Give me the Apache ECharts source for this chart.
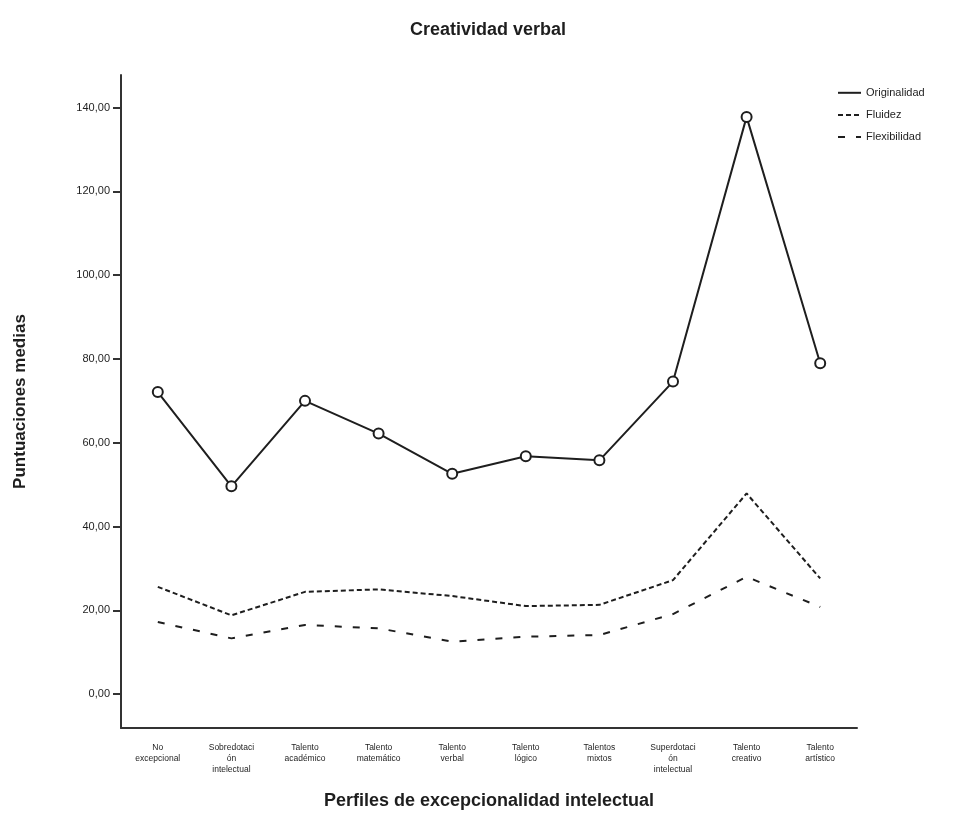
<!DOCTYPE html>
<html>
<head>
<meta charset="utf-8">
<script src="https://cdn.jsdelivr.net/npm/echarts@6/dist/echarts.min.js"></script>
<style>
  html, body { margin: 0; padding: 0; background: #fff; }
  #chart { width: 965px; height: 820px; }
</style>
</head>
<body>
<div id="chart"></div>
<script>
// categorías (perfiles)
var perfiles = [
    'No\nexcepcional', 'Sobredotaci\nón\nintelectual', 'Talento\nacadémico', 'Talento\nmatemático',
    'Talento\nverbal', 'Talento\nlógico', 'Talentos\nmixtos', 'Superdotaci\nón\nintelectual',
    'Talento\ncreativo', 'Talento\nartístico'
]
var originalidad = [72.1, 49.6, 70.0, 62.2, 52.6, 56.8, 55.8, 74.6, 137.8, 79.0]
var fluidez = [25.6, 18.8, 24.4, 25.0, 23.4, 21.0, 21.3, 27.2, 47.9, 27.6]
var flexibilidad = [17.2, 13.3, 16.5, 15.7, 12.5, 13.7, 14.1, 19.1, 28.0, 20.8]
var yTicks = [0, 20, 40, 60, 80, 100, 120, 140]

var ink = '#1e1e1e'
var font = 'Liberation Sans, Arial, sans-serif'

var myChart = echarts.init(document.getElementById('chart'))
myChart.setOption({
    backgroundColor: '#fff',
    animation: false,
    title: {
        text: 'Creatividad verbal',
        left: 483,
        textAlign: 'center',
        top: 16,
        textStyle: {fontSize: 18, fontWeight: 'bold', color: ink, fontFamily: font}
    },
    legend: {
        orient: 'vertical',
        left: 832,
        top: 82,
        itemWidth: 23,
        itemHeight: 12,
        itemGap: 11,
        itemStyle: {opacity: 0},
        textStyle: {fontSize: 11, color: ink, fontFamily: font},
        data: ['Originalidad', 'Fluidez', 'Flexibilidad']
    },
    grid: {
        left: 121,
        right: 108,
        top: 75,
        bottom: 92
    },
    xAxis: {
        type: 'category',
        data: perfiles,
        boundaryGap: true,
        name: 'Perfiles de excepcionalidad intelectual',
        nameLocation: 'middle',
        nameGap: 64,
        nameTextStyle: {fontSize: 18, fontWeight: 'bold', color: ink, fontFamily: font},
        axisLine: {onZero: false, lineStyle: {color: '#333', width: 2}},
        axisTick: {alignWithLabel: true, length: 9, lineStyle: {color: '#333', width: 2}},
        axisLabel: {
            interval: 0,
            fontSize: 8.5,
            lineHeight: 11,
            margin: 14,
            color: ink,
            fontFamily: font
        }
    },
    yAxis: {
        type: 'value',
        min: -8.1,
        max: 147.8,
        name: 'Puntuaciones medias',
        nameLocation: 'middle',
        nameGap: 92,
        nameTextStyle: {fontSize: 17, fontWeight: 'bold', color: ink, fontFamily: font},
        splitLine: {show: false},
        axisLine: {show: true, lineStyle: {color: '#333', width: 2}},
        axisTick: {show: true, length: 8, customValues: yTicks, lineStyle: {color: '#333', width: 2}},
        axisLabel: {
            customValues: yTicks,
            fontSize: 11,
            margin: 11,
            color: ink,
            fontFamily: font,
            formatter: function (v) {
                return v.toFixed(2).replace('.', ',')
            }
        }
    },
    series: [
        {
            name: 'Originalidad',
            type: 'line',
            data: originalidad,
            symbol: 'emptyCircle',
            symbolSize: 10,
            itemStyle: {color: ink, borderWidth: 1.5},
            lineStyle: {color: ink, width: 2}
        },
        {
            name: 'Fluidez',
            type: 'line',
            data: fluidez,
            symbol: 'none',
            itemStyle: {color: ink},
            lineStyle: {color: ink, width: 2, type: [5, 3]}
        },
        {
            name: 'Flexibilidad',
            type: 'line',
            data: flexibilidad,
            symbol: 'none',
            itemStyle: {color: ink},
            lineStyle: {color: ink, width: 2, type: [7, 11]}
        }
    ]
})
</script>
</body>
</html>
